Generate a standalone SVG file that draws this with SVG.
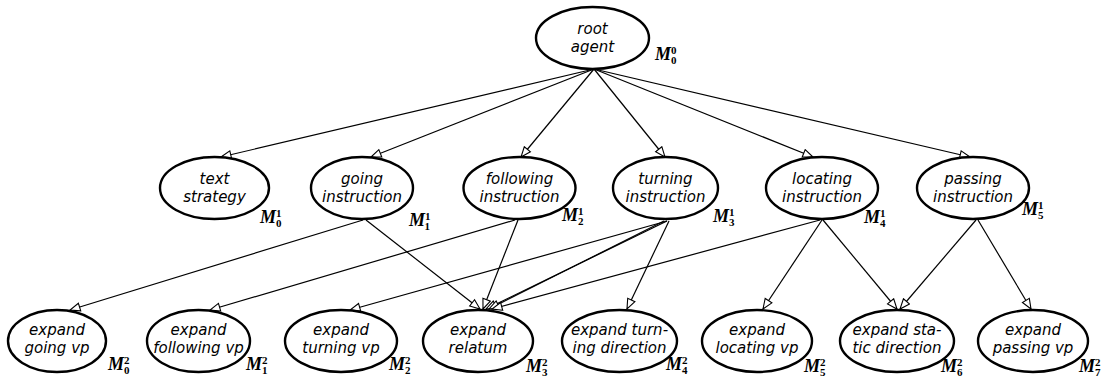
<svg xmlns="http://www.w3.org/2000/svg" width="1107" height="381" viewBox="0 0 1107 381">
  <style>
    .node ellipse { fill: #fff; stroke: #000; stroke-width: 2.4; }
    .lbl { font-family: "DejaVu Sans", sans-serif; font-style: oblique; font-size: 15px; text-anchor: middle; fill: #000; }
    .m { font-family: "Liberation Serif", serif; font-style: italic; font-weight: bold; font-size: 18px; fill: #000; }
    .m tspan { font-style: normal; font-size: 11px; }
    .edges line { stroke: #000; stroke-width: 1.2; marker-end: url(#open); }
  </style>
  <defs>
    <marker id="open" markerUnits="userSpaceOnUse" markerWidth="14" markerHeight="12" refX="11" refY="5" orient="auto">
      <path d="M1,1 L11,5 L1,9 Z" fill="#fff" stroke="#000" stroke-width="1.1"/>
    </marker>
  </defs>

  <!-- connectors -->
  <g id="edges" class="edges">
    <line x1="594" y1="69" x2="221" y2="157"/>
    <line x1="594" y1="69" x2="371" y2="157"/>
    <line x1="594" y1="69" x2="521" y2="157"/>
    <line x1="594" y1="69" x2="665" y2="157"/>
    <line x1="594" y1="69" x2="813" y2="157"/>
    <line x1="594" y1="69" x2="970" y2="157"/>

    <line x1="363" y1="220" x2="70" y2="310"/>
    <line x1="366" y1="220" x2="480" y2="309"/>
    <line x1="515" y1="220" x2="210" y2="310"/>
    <line x1="518" y1="220" x2="483" y2="309"/>
    <line x1="667" y1="221" x2="350" y2="310"/>
    <line x1="667" y1="221" x2="486" y2="309"/>
    <line x1="664" y1="221" x2="489" y2="309"/>
    <line x1="669" y1="221" x2="627" y2="309"/>
    <line x1="820" y1="220" x2="492" y2="309"/>
    <line x1="822" y1="220" x2="763" y2="309"/>
    <line x1="823" y1="220" x2="897" y2="309"/>
    <line x1="976" y1="220" x2="900" y2="309"/>
    <line x1="978" y1="220" x2="1031" y2="309"/>
  </g>

  <!-- level 0 -->
  <g id="root-agent" class="node">
    <ellipse cx="592.5" cy="38" rx="56.5" ry="31"/>
    <text class="lbl" x="592.5" y="34">root</text>
    <text class="lbl" x="592.5" y="52">agent</text>
    <text class="m" x="655" y="60">M<tspan dy="-6">0</tspan><tspan dx="-5.5" dy="10">0</tspan></text>
  </g>

  <!-- level 1 -->
  <g id="text-strategy" class="node">
    <ellipse cx="214.5" cy="188" rx="54.5" ry="31"/>
    <text class="lbl" x="214.5" y="184">text</text>
    <text class="lbl" x="214.5" y="202">strategy</text>
    <text class="m" x="260" y="223">M<tspan dy="-6">1</tspan><tspan dx="-5.5" dy="10">0</tspan></text>
  </g>
  <g id="going-instruction" class="node">
    <ellipse cx="362" cy="188" rx="51" ry="31"/>
    <text class="lbl" x="362" y="184">going</text>
    <text class="lbl" x="362" y="202">instruction</text>
    <text class="m" x="409" y="226">M<tspan dy="-6">1</tspan><tspan dx="-5.5" dy="10">1</tspan></text>
  </g>
  <g id="following-instruction" class="node">
    <ellipse cx="519.5" cy="188" rx="56" ry="31"/>
    <text class="lbl" x="519.5" y="184">following</text>
    <text class="lbl" x="519.5" y="202">instruction</text>
    <text class="m" x="562" y="221">M<tspan dy="-6">1</tspan><tspan dx="-5.5" dy="10">2</tspan></text>
  </g>
  <g id="turning-instruction" class="node">
    <ellipse cx="665.5" cy="188" rx="52.5" ry="31"/>
    <text class="lbl" x="665.5" y="184">turning</text>
    <text class="lbl" x="665.5" y="202">instruction</text>
    <text class="m" x="713" y="222">M<tspan dy="-6">1</tspan><tspan dx="-5.5" dy="10">3</tspan></text>
  </g>
  <g id="locating-instruction" class="node">
    <ellipse cx="822" cy="188" rx="56" ry="31"/>
    <text class="lbl" x="822" y="184">locating</text>
    <text class="lbl" x="822" y="202">instruction</text>
    <text class="m" x="864" y="223">M<tspan dy="-6">1</tspan><tspan dx="-5.5" dy="10">4</tspan></text>
  </g>
  <g id="passing-instruction" class="node">
    <ellipse cx="973" cy="188" rx="56" ry="31"/>
    <text class="lbl" x="973" y="184">passing</text>
    <text class="lbl" x="973" y="202">instruction</text>
    <text class="m" x="1022" y="215">M<tspan dy="-6">1</tspan><tspan dx="-5.5" dy="10">5</tspan></text>
  </g>

  <!-- level 2 -->
  <g id="expand-going-vp" class="node">
    <ellipse cx="57" cy="341" rx="49" ry="31"/>
    <text class="lbl" x="57" y="335">expand</text>
    <text class="lbl" x="57" y="353">going vp</text>
    <text class="m" x="108" y="370">M<tspan dy="-6">2</tspan><tspan dx="-5.5" dy="10">0</tspan></text>
  </g>
  <g id="expand-following-vp" class="node">
    <ellipse cx="198.5" cy="341" rx="51.5" ry="31"/>
    <text class="lbl" x="198.5" y="335">expand</text>
    <text class="lbl" x="198.5" y="353">following vp</text>
    <text class="m" x="246" y="370">M<tspan dy="-6">2</tspan><tspan dx="-5.5" dy="10">1</tspan></text>
  </g>
  <g id="expand-turning-vp" class="node">
    <ellipse cx="341" cy="341" rx="56" ry="31"/>
    <text class="lbl" x="341" y="335">expand</text>
    <text class="lbl" x="341" y="353">turning vp</text>
    <text class="m" x="389" y="370">M<tspan dy="-6">2</tspan><tspan dx="-5.5" dy="10">2</tspan></text>
  </g>
  <g id="expand-relatum" class="node">
    <ellipse cx="478" cy="341" rx="55" ry="31"/>
    <text class="lbl" x="478" y="335">expand</text>
    <text class="lbl" x="478" y="353">relatum</text>
    <text class="m" x="526" y="372">M<tspan dy="-6">2</tspan><tspan dx="-5.5" dy="10">3</tspan></text>
  </g>
  <g id="expand-turning-direction" class="node">
    <ellipse cx="619.5" cy="341" rx="57.5" ry="31"/>
    <text class="lbl" x="619.5" y="335">expand turn-</text>
    <text class="lbl" x="619.5" y="353">ing direction</text>
    <text class="m" x="666" y="370">M<tspan dy="-6">2</tspan><tspan dx="-5.5" dy="10">4</tspan></text>
  </g>
  <g id="expand-locating-vp" class="node">
    <ellipse cx="757" cy="341" rx="55" ry="31"/>
    <text class="lbl" x="757" y="335">expand</text>
    <text class="lbl" x="757" y="353">locating vp</text>
    <text class="m" x="804" y="372">M<tspan dy="-6">2</tspan><tspan dx="-5.5" dy="10">5</tspan></text>
  </g>
  <g id="expand-static-direction" class="node">
    <ellipse cx="897" cy="341" rx="57" ry="31"/>
    <text class="lbl" x="897" y="335">expand sta-</text>
    <text class="lbl" x="897" y="353">tic direction</text>
    <text class="m" x="941" y="372">M<tspan dy="-6">2</tspan><tspan dx="-5.5" dy="10">6</tspan></text>
  </g>
  <g id="expand-passing-vp" class="node">
    <ellipse cx="1033" cy="341" rx="55" ry="31"/>
    <text class="lbl" x="1033" y="335">expand</text>
    <text class="lbl" x="1033" y="353">passing vp</text>
    <text class="m" x="1079" y="372">M<tspan dy="-6">2</tspan><tspan dx="-5.5" dy="10">7</tspan></text>
  </g>
</svg>
